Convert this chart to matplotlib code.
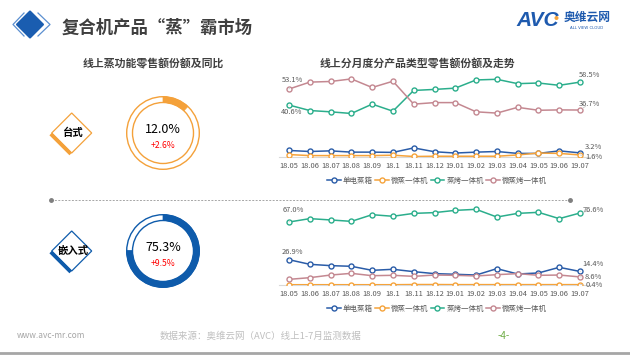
import matplotlib
matplotlib.use("Agg")
import matplotlib.pyplot as plt
from matplotlib.patches import Circle, Wedge, Polygon
from matplotlib.lines import Line2D

plt.rcParams['font.family'] = ['Noto Sans CJK SC', 'DejaVu Sans']

# ---- data ----
months = ["18.05", "18.06", "18.07", "18.08", "18.09", "18.1", "18.11", "18.12",
          "19.01", "19.02", "19.03", "19.04", "19.05", "19.06", "19.07"]
series_names = ["单电蒸箱", "微蒸一体机", "蒸烤一体机", "微蒸烤一体机"]

# 台式
desk_steam = [5.1, 4.3, 4.8, 3.8, 3.8, 3.6, 7.1, 4.1, 3.1, 3.8, 4.3, 2.8, 2.8, 4.8, 3.2]
desk_micro = [1.9, 1.1, 1.1, 1.1, 1.1, 1.4, 0.4, 0.6, 0.6, 0.6, 0.6, 1.6, 3.1, 2.8, 1.6]
desk_bake = [40.6, 36.3, 35.3, 34.0, 41.3, 35.8, 52.0, 52.8, 53.8, 60.2, 60.7, 57.3, 57.8, 56.0, 58.5]
desk_mbake = [53.1, 58.5, 59.0, 61.0, 54.3, 59.2, 41.3, 42.5, 42.5, 35.3, 34.3, 38.8, 36.5, 36.8, 36.7]

# 嵌入式
emb_steam = [26.9, 22.0, 20.6, 19.9, 15.6, 16.7, 14.2, 12.1, 11.4, 10.6, 17.4, 11.7, 12.8, 18.8, 14.4]
emb_micro = [0.3, 0.3, 0.3, 0.3, 0.3, 0.3, 0.5, 0.5, 0.4, 0.4, 0.4, 0.4, 0.4, 0.4, 0.4]
emb_bake = [67.0, 70.6, 69.2, 67.7, 74.8, 73.1, 76.2, 77.0, 79.4, 80.5, 72.3, 76.2, 77.3, 70.6, 76.6]
emb_mbake = [6.0, 7.8, 10.6, 12.4, 9.9, 10.3, 9.2, 10.6, 10.3, 9.6, 11.0, 12.1, 10.3, 10.6, 8.6]

share = [12.0, 75.3]
yoy = ["+2.6%", "+9.5%"]
segments = ["台式", "嵌入式"]

colors = ["#2A5CA8", "#F5A33B", "#2BAE8C", "#C48891"]
gray = "#595959"

fig = plt.figure(figsize=(6.3, 3.55), dpi=100)

# ---- page decoration (pixel coords) ----
bg = fig.add_axes([0, 0, 1, 1])
bg.set_xlim(0, 630)
bg.set_ylim(355, 0)
bg.axis("off")

# header icon
bg.add_patch(Polygon([(30, 11.5), (43, 24.5), (30, 37.5), (17, 24.5)], closed=True,
                     facecolor="#1A5DB0", edgecolor="#1A5DB0", lw=1.5, joinstyle="round"))
bg.plot([24, 13, 24], [13, 24.5, 36], color="#5B8FD0", lw=0.9, solid_joinstyle="round")
bg.plot([38, 50, 38], [13, 24.5, 36], color="#5B8FD0", lw=0.9, solid_joinstyle="round")
bg.text(62, 27.5, "复合机产品“蒸”霸市场", fontsize=12.5, fontweight="bold",
        color="#3F3F3F", va="center", ha="left")

# AVC logo
bg.text(538, 20, "AVC", fontsize=15, fontweight="bold", fontstyle="italic",
        color="#1E5AAE", ha="center", va="center", family="Liberation Sans")
bg.add_patch(Circle((556.5, 18), 1.3, color="#F5A33B"))
bg.text(587, 17.5, "奥维云网", fontsize=8.5, fontweight="bold", color="#1E5AAE",
        ha="center", va="center")
bg.text(587, 28, "ALL VIEW CLOUD", fontsize=2.8, color="#1E5AAE", ha="center", va="center",
        family="DejaVu Sans")

# subtitles
bg.text(153, 63.5, "线上蒸功能零售额份额及同比", fontsize=7.8, fontweight="bold",
        color="#404040", ha="center", va="center")
bg.text(417, 63.5, "线上分月度分产品类型零售额份额及走势", fontsize=7.8, fontweight="bold",
        color="#404040", ha="center", va="center")

# diamonds + donuts
ring_cols = ["#F4A13A", "#0E5BAB"]
centers_y = [133, 251]
for i in range(2):
    c = ring_cols[i]
    cy = centers_y[i]
    dx, h = 71.7, 20
    bg.add_patch(Polygon([(dx, cy - h), (dx + h, cy), (dx, cy + h), (dx - h, cy)], closed=True,
                         facecolor="white", edgecolor=c, lw=0.9))
    bg.plot([dx - h - 1, dx - 1], [cy + 1, cy + h + 1], color=c, lw=2.6, solid_capstyle="butt")
    bg.text(dx + 1, cy, segments[i], fontsize=7.5, fontweight="bold", color="black",
            ha="center", va="center")

    cx = 163
    r_out = 36.3
    bg.add_patch(Circle((cx, cy), r_out, fill=False, edgecolor=c, lw=1.0))
    bg.add_patch(Circle((cx, cy), 30.5, fill=False, edgecolor=c, lw=1.0))
    bg.add_patch(Wedge((cx, cy), r_out, -90, -90 + 360 * share[i] / 100, width=5.8,
                       facecolor=c, edgecolor=c, lw=0.5))
    bg.text(cx, cy - 3.5, "%.1f%%" % share[i], fontsize=9, color="black",
            ha="center", va="center")
    bg.text(cx, cy + 12, yoy[i], fontsize=6.2, color="#FF0000",
            ha="center", va="center")

# divider
bg.plot([51, 570], [199.7, 199.7], color="#A6A6A6", lw=0.7, ls=(0, (2, 1.5)))
bg.plot([51, 570], [199.7, 199.7], "o", color="#7F7F7F", ms=2.5)

# footer
bg.text(17, 336, "www.avc-mr.com", fontsize=6, color="#A6A6A6", ha="left", va="center")
bg.text(261, 336, "数据来源：奥维云网（AVC）线上1-7月监测数据", fontsize=6.8,
        color="#BFBFBF", ha="center", va="center")
bg.text(504, 336, "-4-", fontsize=7, color="#70AD47", ha="center", va="center")
bg.plot([0, 630], [353, 353], color="#A6A6A6", lw=2)


def line_chart(rect, data, ymax, labels, leg_y):
    ax = fig.add_axes(rect)
    ax.set_facecolor("none")
    x = list(range(len(months)))
    for vals, col, name in zip(data, colors, series_names):
        ax.plot(x, vals, color=col, lw=1.1, marker="o", ms=3.6, mfc="white",
                mec=col, mew=1.0, label=name, zorder=3)
    ax.set_xlim(-0.5, 14.5)
    ax.set_ylim(0, ymax)
    ax.set_xticks(x)
    ax.set_xticklabels(months)
    ax.tick_params(axis="x", length=0, labelsize=5.4, colors=gray, pad=3.5)
    ax.set_yticks([])
    for s in ["top", "left", "right"]:
        ax.spines[s].set_visible(False)
    ax.spines["bottom"].set_color("#D9D9D9")
    ax.spines["bottom"].set_linewidth(0.8)
    for idx, val, off in labels:
        ax.annotate("%.1f%%" % val, xy=(idx, val), xytext=off, textcoords="offset pixels",
                    fontsize=5.4, color=gray, ha="center", va="center",
                    arrowprops=dict(arrowstyle="-", color="#BFBFBF", lw=0.5,
                                    shrinkA=3, shrinkB=2))
    handles = [Line2D([], [], color=c, lw=1.1, marker="o", ms=3.6, mfc="white", mec=c, mew=1.0)
               for c in colors]
    ax.legend(handles, series_names, loc="center", bbox_to_anchor=(437 / 630, 1 - leg_y / 355),
              bbox_transform=fig.transFigure, ncol=4, frameon=False, fontsize=5.4,
              labelcolor=gray, handlelength=1.8, handletextpad=0.3, columnspacing=0.3)
    return ax


top_labels = [(0, desk_mbake[0], (3, 9)), (0, desk_bake[0], (3, -7)),
              (14, desk_bake[-1], (10, 7)), (14, desk_mbake[-1], (9, 6)),
              (14, desk_steam[-1], (13, 6)), (14, desk_micro[-1], (14, -2))]
line_chart([278.6 / 630, (355 - 157) / 355, 311.8 / 630, 83.2 / 355],
           [desk_steam, desk_micro, desk_bake, desk_mbake], 65, top_labels, 181)

bot_labels = [(0, emb_bake[0], (4, 12)), (0, emb_steam[0], (3, 8)),
              (14, emb_bake[-1], (13, 3)), (14, emb_steam[-1], (13, 7)),
              (14, emb_mbake[-1], (13, 0)), (14, emb_micro[-1], (14, 0))]
line_chart([278.6 / 630, (355 - 285) / 355, 311.8 / 630, 79.9 / 355],
           [emb_steam, emb_micro, emb_bake, emb_mbake], 85, bot_labels, 309)

fig.savefig("out.png", dpi=100)
